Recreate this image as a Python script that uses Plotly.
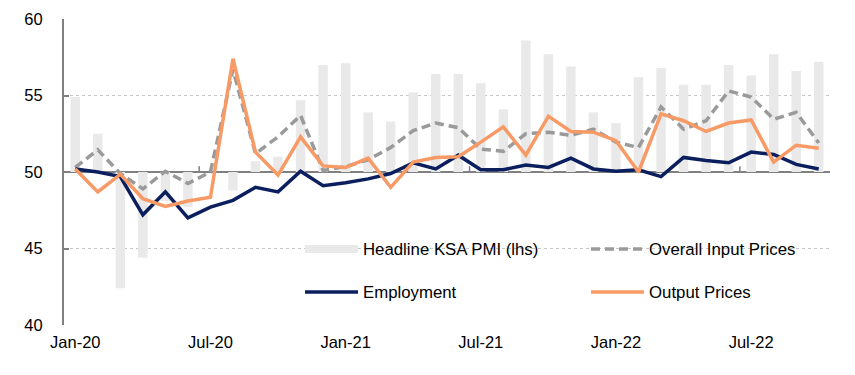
import plotly.graph_objects as go

months = ["Jan-20", "Feb-20", "Mar-20", "Apr-20", "May-20", "Jun-20", "Jul-20", "Aug-20",
          "Sep-20", "Oct-20", "Nov-20", "Dec-20", "Jan-21", "Feb-21", "Mar-21", "Apr-21",
          "May-21", "Jun-21", "Jul-21", "Aug-21", "Sep-21", "Oct-21", "Nov-21", "Dec-21",
          "Jan-22", "Feb-22", "Mar-22", "Apr-22", "May-22", "Jun-22", "Jul-22", "Aug-22",
          "Sep-22", "Oct-22"]

headline_pmi = [54.9, 52.5, 42.4, 44.4, 48.1, 47.7, 50.0, 48.8, 50.7, 51.0, 54.7, 57.0,
                57.1, 53.9, 53.3, 55.2, 56.4, 56.4, 55.8, 54.1, 58.6, 57.7, 56.9, 53.9,
                53.2, 56.2, 56.8, 55.7, 55.7, 57.0, 56.3, 57.7, 56.6, 57.2]

employment = [50.2, 50.0, 49.7, 47.2, 48.7, 47.0, 47.7, 48.15, 49.0, 48.7, 50.05, 49.1,
              49.3, 49.55, 49.9, 50.6, 50.2, 51.1, 50.15, 50.15, 50.45, 50.3, 50.9, 50.2,
              50.05, 50.15, 49.7, 50.95, 50.75, 50.6, 51.3, 51.15, 50.5, 50.2]

input_prices = [50.3, 51.45, 49.9, 48.9, 50.05, 49.25, 50.0, 56.7, 51.2, 52.3, 53.7, 50.1,
                50.35, 50.8, 51.6, 52.7, 53.2, 52.9, 51.5, 51.35, 52.5, 52.6, 52.4, 52.8,
                51.95, 51.6, 54.25, 52.8, 53.35, 55.3, 54.9, 53.45, 53.9, 51.9]

output_prices = [50.2, 48.7, 49.85, 48.25, 47.75, 48.1, 48.35, 57.4, 51.3, 49.8, 52.3, 50.4,
                 50.3, 50.9, 49.0, 50.65, 50.95, 51.0, 51.95, 52.95, 51.1, 53.65, 52.65, 52.6,
                 52.05, 50.0, 53.8, 53.35, 52.65, 53.2, 53.4, 50.65, 51.75, 51.55]

tick_labels = ["Jan-20", "Jul-20", "Jan-21", "Jul-21", "Jan-22", "Jul-22"]
y_ticks = [40, 45, 50, 55, 60]

BASE = 50
FONT = "Liberation Sans, Arial, sans-serif"
FS = 16.5
LFS = 16.8
NAVY = "#0b1f5e"
ORANGE = "#f79a65"
GREY = "#9a9a9a"
BARC = "#e9e9e9"

# page body has an 8px margin: figure is sized so the page is exactly 855x375
W, H = 839, 359
PL, PT, PR, PB = 64, 19, 830, 325          # plot area in window pixels
OFF = 8
ML, MT = PL - OFF, PT - OFF
MR, MB = (OFF + W) - PR, (OFF + H) - PB
PW, PH = PR - PL, PB - PT

fig = go.Figure()

fig.add_trace(go.Bar(x=months, y=[v - BASE for v in headline_pmi], base=BASE,
                     marker=dict(color=BARC, line=dict(width=0)), width=0.42,
                     showlegend=False, name="Headline KSA PMI (lhs)"))
fig.add_trace(go.Scatter(x=months, y=input_prices, mode="lines", name="Overall Input Prices",
                         line=dict(color=GREY, width=3.5, dash="9px,5px"), legend="legend2"))
fig.add_trace(go.Scatter(x=months, y=employment, mode="lines", name="Employment",
                         line=dict(color=NAVY, width=3.5), legend="legend3"))
fig.add_trace(go.Scatter(x=months, y=output_prices, mode="lines", name="Output Prices",
                         line=dict(color=ORANGE, width=3.5), legend="legend4"))
# legend entry for the bars (wide flat swatch like the original)
fig.add_trace(go.Scatter(x=[None], y=[None], mode="lines", name="Headline KSA PMI (lhs)",
                         line=dict(color=BARC, width=8), legend="legend"))


def leg(px, py):
    return dict(x=(px - PL) / PW, y=(PB - py) / PH, xanchor="left", yanchor="middle",
                orientation="h", bgcolor="rgba(0,0,0,0)", itemwidth=53, itemclick=False,
                font=dict(family=FONT, size=LFS, color="#000"))


fig.update_layout(
    width=W, height=H,
    margin=dict(l=ML, r=MR, t=MT, b=MB, autoexpand=False),
    plot_bgcolor="white", paper_bgcolor="white",
    font=dict(family=FONT, size=FS, color="#000"),
    xaxis=dict(type="category", range=[-0.5, len(months) - 0.5],
               tickmode="array", tickvals=tick_labels, ticktext=tick_labels,
               showgrid=False, showline=False, zeroline=False, ticks="",
               ticklabelstandoff=5, automargin=False,
               tickfont=dict(family=FONT, size=FS, color="#000")),
    yaxis=dict(range=[40, 60], tickvals=y_ticks, showgrid=True, gridcolor="#c6c6c6",
               griddash="dot", gridwidth=1.3, zeroline=False, showline=True,
               linecolor="#808080", linewidth=2, ticks="inside", ticklen=5,
               tickcolor="#808080", tickwidth=2, ticklabelstandoff=16, automargin=False,
               tickfont=dict(family=FONT, size=FS, color="#000")),
    legend=leg(300, 249),
    legend2=leg(586, 249),
    legend3=leg(300, 292),
    legend4=leg(586, 292),
)

# horizontal axis line at 50 and its small tick marks
fig.add_shape(type="line", xref="x", yref="y", x0=-0.5, x1=len(months) - 0.5, y0=BASE, y1=BASE,
              line=dict(color="#808080", width=2), layer="between")
for m in [5.5, 17.5, 29.5]:
    fig.add_shape(type="line", xref="x", yref="y", x0=m, x1=m, y0=BASE, y1=BASE + 0.38,
                  line=dict(color="#808080", width=1.5), layer="between")

fig.write_html("out.html")
